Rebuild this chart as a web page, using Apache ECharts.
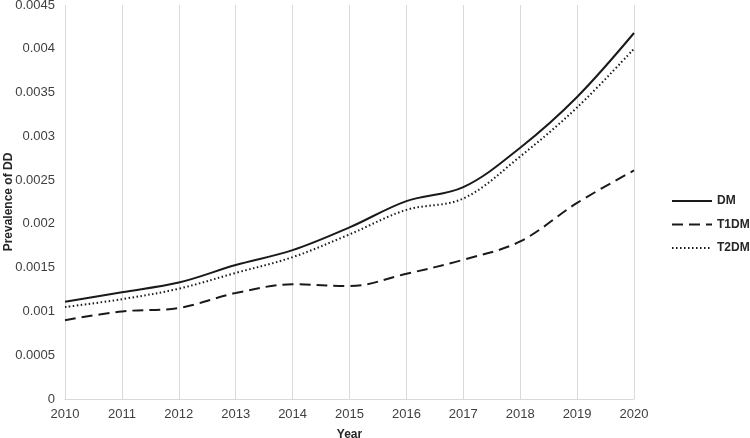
<!DOCTYPE html>
<html><head><meta charset="utf-8">
<script src="https://cdn.jsdelivr.net/npm/echarts@6/dist/echarts.min.js"></script>
<style>html,body{margin:0;padding:0;background:#fff}#c{width:750px;height:438px}</style>
</head><body><div id="c"></div>
<script>
const years = ['2010','2011','2012','2013','2014','2015','2016','2017','2018','2019','2020'];
const dm   = [0.00111,0.00122,0.00133,0.00153,0.00170,0.00196,0.00226,0.00242,0.00287,0.00345,0.00418];
const t1dm = [0.00090,0.00100,0.00104,0.00121,0.00131,0.00129,0.00143,0.00159,0.00180,0.00224,0.00261];
const t2dm = [0.00105,0.00114,0.00126,0.00144,0.00162,0.00188,0.00216,0.00229,0.00277,0.00333,0.00400];

const chart = echarts.init(document.getElementById('c'), null, {renderer:'canvas'});
const font = 'Liberation Sans, Arial, sans-serif';
const lineColor = '#1a1a1a';
function mk(name, data, type, width){
  return {name, type:'line', data, smooth:0.35, symbol:'none', showSymbol:false,
    lineStyle:{color:lineColor, width, type}, itemStyle:{color:lineColor}};
}
chart.setOption({
  animation:false,
  grid:{left:65, right:116, top:5, bottom:39, outerBoundsMode:'none', containLabel:false},
  legend:{orient:'vertical', left:666, top:190, itemGap:11.5, itemWidth:40, itemHeight:13.5,
    itemStyle:{opacity:0},
    textStyle:{fontFamily:font, fontSize:12, fontWeight:'bold', color:'#262626'},
    data:['DM','T1DM','T2DM']},
  xAxis:{type:'category', data:years, boundaryGap:false,
    name:'Year', nameLocation:'middle', nameGap:30,
    nameTextStyle:{fontFamily:font, fontSize:12, fontWeight:'bold', color:'#262626'},
    axisLine:{lineStyle:{color:'#d9d9d9'}}, axisTick:{show:false},
    axisLabel:{fontFamily:font, fontSize:13, color:'#404040', margin:9},
    splitLine:{show:true, lineStyle:{color:'#d9d9d9', width:1}}},
  yAxis:{type:'value', min:0, max:0.0045, interval:0.0005,
    name:'Prevalence of DD', nameLocation:'middle', nameGap:50, nameRotate:90,
    nameMoveOverlap:false,
    nameTextStyle:{fontFamily:font, fontSize:12, fontWeight:'bold', color:'#262626'},
    axisLine:{show:false}, axisTick:{show:false}, splitLine:{show:false},
    axisLabel:{fontFamily:font, fontSize:13, color:'#404040', margin:10,
      formatter:v=>String(parseFloat(v.toFixed(5)))}},
  series:[
    mk('DM', dm, 'solid', 2),
    mk('T1DM', t1dm, [11,6], 2),
    mk('T2DM', t2dm, [1.5,2.5], 2)
  ]
});
</script></body></html>
